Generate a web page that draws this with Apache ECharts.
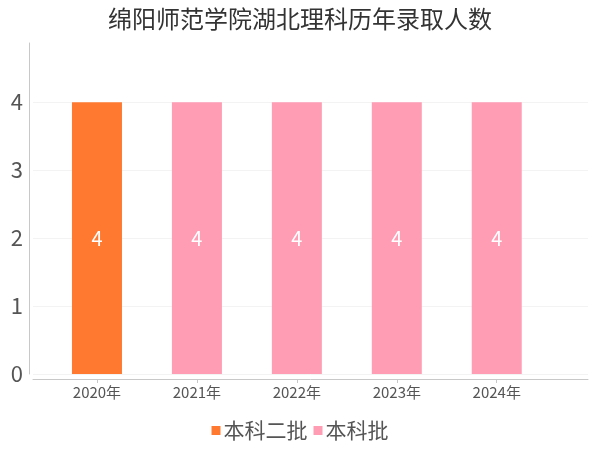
<!DOCTYPE html>
<html><head><meta charset="utf-8">
<script src="https://cdn.jsdelivr.net/npm/echarts@6/dist/echarts.min.js"></script>
<style>html,body{margin:0;padding:0;background:#fff}#c{width:600px;height:450px}</style>
</head><body><div id="c"></div>
<script>
const title = '绵阳师范学院湖北理科历年录取人数';
const years = ['2020年', '2021年', '2022年', '2023年', '2024年'];
const seriesNames = ['本科二批', '本科批'];
const erpiValues = [4, '-', '-', '-', '-'];
const benkeValues = ['-', 4, 4, 4, 4];
const yTicks = [0, 1, 2, 3, 4];

const font = '"Noto Sans CJK SC", "Microsoft YaHei", sans-serif';
const chart = echarts.init(document.getElementById('c'));
const idx = years.map((_, i) => i);
chart.setOption({
  animation: false,
  textStyle: { fontFamily: font },
  title: { text: title, left: 'center', top: 2, textStyle: { fontFamily: font, fontSize: 24, fontWeight: 'normal', color: '#333' } },
  legend: { data: seriesNames, bottom: 4, left: 'center', icon: 'rect', itemWidth: 9, itemHeight: 9, itemGap: 6,
    textStyle: { fontFamily: font, fontSize: 21, color: '#555', padding: [0, 0, 0, -2] } },
  grid: { left: 33, right: 12, top: 43, bottom: 76 },
  xAxis: {
    type: 'value', min: -0.64, max: 4.913, offset: 5,
    axisLine: { show: true, onZero: false, lineStyle: { color: '#c8c8c8' } },
    axisTick: { show: true, length: 4, customValues: idx, lineStyle: { color: '#c8c8c8' } },
    axisLabel: { customValues: idx, formatter: v => years[Math.round(v)], fontSize: 15, color: '#555', margin: 6, fontFamily: font },
    splitLine: { show: false }
  },
  yAxis: {
    type: 'value', min: 0, max: 4.87, interval: 1, offset: 4,
    axisLine: { show: true, onZero: false, lineStyle: { color: '#c8c8c8' } },
    axisTick: { show: false },
    axisLabel: { showMaxLabel: false, fontSize: 22, color: '#555', margin: 6, fontFamily: font,
      formatter: v => yTicks.includes(v) ? String(v) : '' },
    splitLine: { show: true, showMaxLine: false, lineStyle: { color: '#f3f3f3' } }
  },
  series: [
    { name: seriesNames[0], type: 'bar', stack: 'all', barWidth: 50,
      itemStyle: { color: '#ff7a30' },
      label: { show: true, position: 'inside', color: '#fff', fontSize: 20, fontFamily: font },
      data: idx.map(i => [i, erpiValues[i]]) },
    { name: seriesNames[1], type: 'bar', stack: 'all', barWidth: 50,
      itemStyle: { color: '#ff9db5' },
      label: { show: true, position: 'inside', color: '#fff', fontSize: 20, fontFamily: font },
      data: idx.map(i => [i, benkeValues[i]]) }
  ]
});
</script></body></html>
